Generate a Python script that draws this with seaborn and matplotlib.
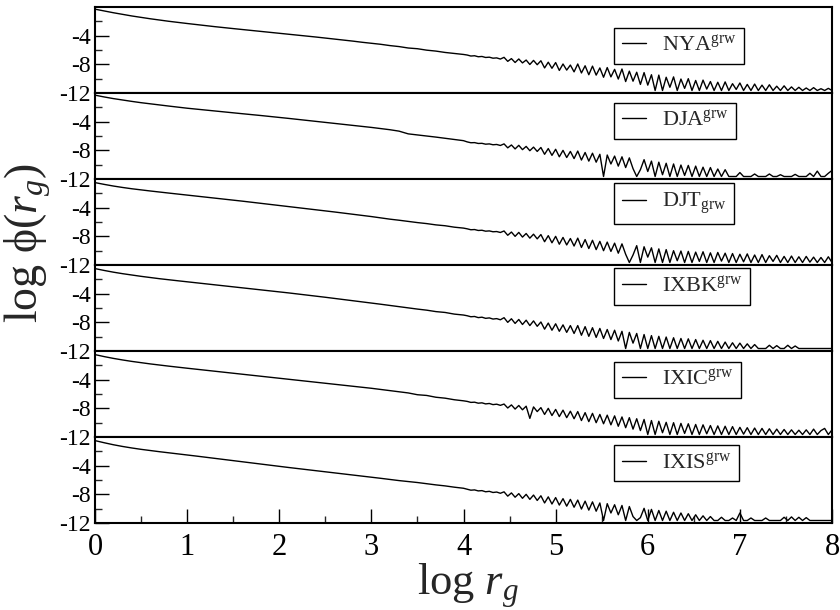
import numpy as np
import pandas as pd
import matplotlib
matplotlib.use("Agg")
import matplotlib.pyplot as plt
import seaborn as sns
from matplotlib.ticker import FixedLocator, MultipleLocator

# sample positions (log r_g)
x_head = np.round(np.arange(0.0, 4.0001, 0.1), 2)     # 41 points
x_tail = np.round(np.arange(4.04, 8.0001, 0.04), 2)   # 100 points

# ---- NYA ----
nya_head = [-0.30, -0.55, -0.80, -1.03, -1.25, -1.45, -1.64, -1.82, -1.99, -2.15,
            -2.30, -2.45, -2.60, -2.74, -2.88, -3.01, -3.14, -3.27, -3.40, -3.53,
            -3.66, -3.79, -3.92, -4.05, -4.19, -4.33, -4.48, -4.62, -4.76, -4.92,
            -5.06, -5.20, -5.38, -5.52, -5.72, -5.82, -6.02, -6.15, -6.34, -6.48,
            -6.62]
nya_tail = [-6.70, -6.84, -6.80, -6.94, -6.90, -7.04, -7.00, -7.14, -7.10, -7.26,
            -7.02, -7.58, -7.20, -7.74, -7.25, -7.80, -7.40, -8.02, -7.45, -8.05,
            -7.50, -8.50, -7.70, -8.55, -7.75, -8.85, -7.95, -8.80, -8.10, -9.05,
            -7.95, -9.20, -8.20, -9.45, -8.25, -9.50, -8.50, -9.80, -8.45, -9.75,
            -8.70, -10.05, -8.65, -10.40, -8.95, -10.35, -9.10, -10.80, -9.15, -10.90,
            -9.45, -11.65, -9.50, -11.65, -9.80, -11.20, -9.75, -11.65, -10.05, -11.35,
            -10.00, -11.65, -10.25, -11.65, -10.20, -11.45, -10.40, -11.65, -10.50, -11.65,
            -10.45, -11.65, -10.70, -11.50, -10.60, -11.65, -10.80, -11.65, -10.75, -11.65,
            -10.90, -11.65, -10.85, -11.65, -11.05, -11.65, -11.00, -11.65, -11.15, -11.65,
            -11.20, -11.65, -11.30, -11.65, -11.25, -11.65, -11.40, -11.65, -11.35, -11.65]

# ---- DJA ----
dja_head = [-0.30, -0.55, -0.78, -0.98, -1.17, -1.35, -1.51, -1.67, -1.82, -1.97,
            -2.12, -2.25, -2.38, -2.51, -2.64, -2.77, -2.89, -3.01, -3.14, -3.27,
            -3.40, -3.54, -3.68, -3.82, -3.96, -4.10, -4.24, -4.38, -4.52, -4.66,
            -4.80, -4.96, -5.12, -5.32, -5.70, -5.85, -6.00, -6.15, -6.32, -6.50,
            -6.65]
dja_tail = [-6.82, -6.94, -6.92, -7.04, -7.02, -7.14, -7.10, -7.22, -7.18, -7.32,
            -7.10, -7.65, -7.25, -7.80, -7.30, -7.90, -7.45, -8.05, -7.55, -8.15,
            -7.60, -8.55, -7.75, -8.70, -7.85, -8.90, -8.00, -9.00, -8.15, -9.15,
            -8.10, -9.35, -8.30, -9.50, -8.40, -9.65, -8.55, -11.65, -8.65, -9.90,
            -8.80, -10.20, -8.90, -10.40, -9.05, -10.55, -11.65, -10.70, -9.30, -10.95,
            -9.50, -11.65, -9.65, -11.40, -9.80, -11.65, -9.90, -11.65, -10.05, -11.50,
            -10.10, -11.65, -10.20, -11.65, -10.35, -11.65, -10.40, -11.65, -10.60, -11.65,
            -10.70, -11.65, -11.65, -11.65, -11.10, -11.65, -11.65, -11.65, -11.30, -11.65,
            -11.65, -11.65, -11.30, -11.65, -11.65, -11.40, -11.65, -11.65, -11.65, -11.35,
            -11.65, -11.65, -11.65, -11.20, -11.65, -10.90, -11.65, -11.65, -11.20, -10.80]

# ---- DJT ----
djt_head = [-0.50, -0.75, -0.98, -1.18, -1.36, -1.52, -1.67, -1.82, -1.96, -2.10,
            -2.24, -2.38, -2.52, -2.66, -2.80, -2.94, -3.09, -3.24, -3.39, -3.54,
            -3.69, -3.84, -3.99, -4.14, -4.29, -4.44, -4.60, -4.76, -4.92, -5.08,
            -5.24, -5.42, -5.60, -5.75, -5.92, -6.08, -6.22, -6.40, -6.52, -6.72,
            -6.85]
djt_tail = [-6.95, -7.08, -7.05, -7.18, -7.15, -7.28, -7.24, -7.36, -7.33, -7.46,
            -7.25, -7.85, -7.40, -8.00, -7.45, -8.10, -7.60, -8.25, -7.70, -8.35,
            -7.75, -8.75, -7.90, -8.90, -8.00, -9.10, -8.15, -9.20, -8.30, -9.35,
            -8.25, -9.55, -8.45, -9.70, -8.55, -9.85, -8.70, -10.00, -8.80, -10.10,
            -8.95, -10.35, -9.05, -10.50, -11.65, -10.60, -9.30, -11.65, -9.45, -10.90,
            -9.60, -11.65, -9.75, -11.65, -9.85, -11.65, -10.00, -11.40, -10.05, -11.65,
            -10.10, -11.65, -10.20, -11.50, -10.15, -11.65, -10.30, -11.65, -10.25, -11.45,
            -10.35, -11.65, -10.40, -11.65, -10.50, -11.55, -10.45, -11.65, -10.60, -11.65,
            -10.55, -11.65, -10.70, -11.50, -10.65, -11.65, -10.80, -11.65, -10.75, -11.65,
            -10.85, -11.65, -10.80, -11.60, -10.90, -11.65, -10.95, -11.65, -10.85, -11.65]

# ---- IXBK ----
ixbk_head = [-0.50, -0.76, -1.00, -1.21, -1.40, -1.58, -1.75, -1.91, -2.06, -2.20,
             -2.34, -2.48, -2.62, -2.76, -2.90, -3.04, -3.18, -3.32, -3.46, -3.60,
             -3.74, -3.89, -4.04, -4.19, -4.34, -4.50, -4.66, -4.82, -4.98, -5.14,
             -5.30, -5.47, -5.64, -5.80, -5.98, -6.15, -6.30, -6.50, -6.62, -6.85,
             -6.98]
ixbk_tail = [-7.08, -7.22, -7.18, -7.34, -7.28, -7.44, -7.38, -7.54, -7.48, -7.64,
             -7.35, -8.00, -7.50, -8.15, -7.60, -8.30, -7.70, -8.45, -7.80, -8.55,
             -7.95, -8.95, -8.10, -9.10, -8.20, -9.25, -8.35, -9.40, -8.45, -9.55,
             -8.45, -9.80, -8.60, -9.95, -8.75, -10.10, -8.85, -10.25, -9.00, -10.40,
             -9.10, -10.60, -9.25, -11.65, -9.40, -10.90, -9.55, -11.65, -9.70, -11.65,
             -9.85, -11.65, -9.95, -11.65, -10.05, -11.65, -10.15, -11.65, -10.25, -11.65,
             -10.30, -11.65, -10.40, -11.65, -10.50, -11.65, -10.55, -11.65, -10.65, -11.65,
             -10.75, -11.65, -10.85, -11.65, -10.90, -11.65, -11.00, -11.65, -11.10, -11.65,
             -11.65, -11.65, -11.20, -11.65, -11.25, -11.65, -11.65, -11.20, -11.65, -11.30,
             -11.65, -11.65, -11.65, -11.65, -11.65, -11.65, -11.65, -11.65, -11.65, -11.65]

# ---- IXIC ----
ixic_head = [-0.50, -0.78, -1.03, -1.25, -1.45, -1.63, -1.80, -1.96, -2.11, -2.26,
             -2.40, -2.54, -2.68, -2.82, -2.96, -3.10, -3.24, -3.38, -3.52, -3.66,
             -3.80, -3.94, -4.08, -4.22, -4.36, -4.50, -4.64, -4.78, -4.92, -5.06,
             -5.20, -5.36, -5.52, -5.68, -5.85, -6.10, -6.20, -6.45, -6.58, -6.80,
             -6.95]
ixic_tail = [-7.03, -7.17, -7.14, -7.28, -7.23, -7.38, -7.32, -7.48, -7.42, -7.58,
             -7.40, -7.95, -7.52, -8.10, -7.60, -8.20, -7.70, -9.40, -7.80, -8.45,
             -7.90, -8.85, -8.00, -9.00, -8.15, -9.15, -8.25, -9.30, -8.40, -9.45,
             -8.45, -9.70, -8.60, -9.85, -8.70, -10.00, -8.85, -10.15, -8.95, -10.30,
             -9.05, -10.50, -9.20, -10.70, -9.30, -10.90, -9.45, -11.10, -9.55, -11.65,
             -9.70, -11.65, -9.80, -11.40, -9.95, -11.65, -10.00, -11.65, -10.10, -11.50,
             -10.15, -11.65, -10.25, -11.65, -10.30, -11.55, -10.40, -11.65, -10.45, -11.65,
             -10.50, -11.65, -10.55, -11.65, -10.65, -11.60, -10.70, -11.65, -10.75, -11.65,
             -10.80, -11.65, -10.85, -11.65, -10.90, -11.65, -10.95, -11.65, -11.00, -11.65,
             -11.05, -11.65, -11.00, -11.65, -10.90, -11.65, -11.10, -10.80, -11.65, -11.00]

# ---- IXIS ----
ixis_head = [-0.50, -0.80, -1.08, -1.32, -1.53, -1.72, -1.89, -2.05, -2.20, -2.35,
             -2.50, -2.66, -2.82, -2.98, -3.14, -3.30, -3.46, -3.62, -3.78, -3.94,
             -4.10, -4.25, -4.40, -4.55, -4.70, -4.85, -5.00, -5.15, -5.30, -5.45,
             -5.60, -5.76, -5.92, -6.08, -6.22, -6.35, -6.52, -6.68, -6.82, -7.00,
             -7.15]
ixis_tail = [-7.28, -7.42, -7.38, -7.52, -7.48, -7.64, -7.58, -7.74, -7.68, -7.85,
             -7.65, -8.25, -7.80, -8.40, -7.90, -8.55, -8.00, -8.70, -8.10, -8.85,
             -8.20, -9.20, -8.35, -9.35, -8.45, -9.50, -8.60, -9.65, -8.70, -9.80,
             -8.80, -10.05, -8.95, -10.20, -9.05, -10.35, -9.20, -11.65, -9.30, -10.60,
             -9.45, -10.85, -9.55, -11.65, -9.70, -11.10, -11.65, -11.25, -9.95, -11.65,
             -10.10, -11.65, -10.25, -11.65, -10.35, -11.65, -10.50, -11.65, -10.60, -11.65,
             -10.70, -11.65, -10.85, -11.65, -11.00, -11.65, -11.10, -11.65, -11.65, -11.20,
             -11.65, -11.65, -11.30, -11.65, -10.60, -11.65, -11.65, -11.30, -11.65, -11.65,
             -11.65, -11.30, -11.65, -11.65, -11.65, -11.65, -11.20, -11.65, -11.15, -11.65,
             -11.20, -11.65, -11.25, -11.65, -11.65, -11.65, -11.65, -11.65, -11.65, -11.65]

labels = [r"NYA$^{\mathrm{grw}}$", r"DJA$^{\mathrm{grw}}$", r"DJT$_{\mathrm{grw}}$",
          r"IXBK$^{\mathrm{grw}}$", r"IXIC$^{\mathrm{grw}}$", r"IXIS$^{\mathrm{grw}}$"]
heads = [nya_head, dja_head, djt_head, ixbk_head, ixic_head, ixis_head]
tails = [nya_tail, dja_tail, djt_tail, ixbk_tail, ixic_tail, ixis_tail]
legend_top = [0.759, 0.887, 0.953, 0.962, 0.876, 0.907]

x_ticks = [0, 1, 2, 3, 4, 5, 6, 7, 8]
y_major = [-12, -8, -4]
y_minor = [-10, -6, -2]

sns.set_theme(style="ticks")
plt.rcParams['font.family'] = ['Liberation Serif', 'DejaVu Serif']
plt.rcParams['mathtext.fontset'] = 'custom'
plt.rcParams['mathtext.rm'] = 'Liberation Serif'
plt.rcParams['mathtext.it'] = 'Liberation Serif:italic'
plt.rcParams['axes.unicode_minus'] = False

fig, axes = plt.subplots(6, 1, figsize=(8.4, 6.1), dpi=100, sharex=True)
fig.subplots_adjust(left=0.1131, right=0.9905, top=0.9885, bottom=0.1426, hspace=0)

x_all = np.concatenate([x_head, x_tail])
for i, ax in enumerate(axes):
    df = pd.DataFrame({"x": x_all, "y": list(heads[i]) + list(tails[i])})
    sns.lineplot(data=df, x="x", y="y", ax=ax, color="black", linewidth=1.0,
                 label=labels[i], estimator=None, sort=False)
    ax.set_xlim(0, 8)
    ax.set_ylim(-12, 0)
    ax.set_xlabel("")
    ax.set_ylabel("")
    ax.yaxis.set_major_locator(FixedLocator(y_major))
    ax.yaxis.set_minor_locator(FixedLocator(y_minor))
    ax.tick_params(axis="y", which="major", direction="in", length=10, width=1,
                   labelsize=17, left=True, right=False, pad=3, colors="black")
    ax.tick_params(axis="y", which="minor", direction="in", length=5, width=1,
                   left=True, right=False)
    for s in ax.spines.values():
        s.set_visible(True)
        s.set_linewidth(1.5)
        s.set_color("black")
    leg = ax.legend(loc="upper left", bbox_to_anchor=(0.704, legend_top[i]),
                    frameon=True, fancybox=False, edgecolor="black", framealpha=1,
                    fontsize=16, handlelength=1.1, handletextpad=0.7,
                    borderpad=0.35, borderaxespad=0)
    leg.get_frame().set_linewidth(1.0)
    for line in leg.get_lines():
        line.set_linewidth(1.0)
    if i < 5:
        ax.tick_params(axis="x", which="both", bottom=False, top=False,
                       labelbottom=False)

axb = axes[-1]
axb.xaxis.set_major_locator(FixedLocator(x_ticks))
axb.xaxis.set_minor_locator(MultipleLocator(0.5))
axb.tick_params(axis="x", which="major", direction="in", length=10, width=1,
                labelsize=22, bottom=True, top=False, pad=7, colors="black")
axb.tick_params(axis="x", which="minor", direction="in", length=5, width=1,
                bottom=True, top=False)

fig.text(0.033, 0.602, "log ϕ($r_g$)", rotation=90, fontsize=33,
         ha="center", va="center")
fig.text(0.497, 0.0246, "log $r_g$", fontsize=32, ha="left", va="baseline")

fig.savefig("out.png", dpi=100)
